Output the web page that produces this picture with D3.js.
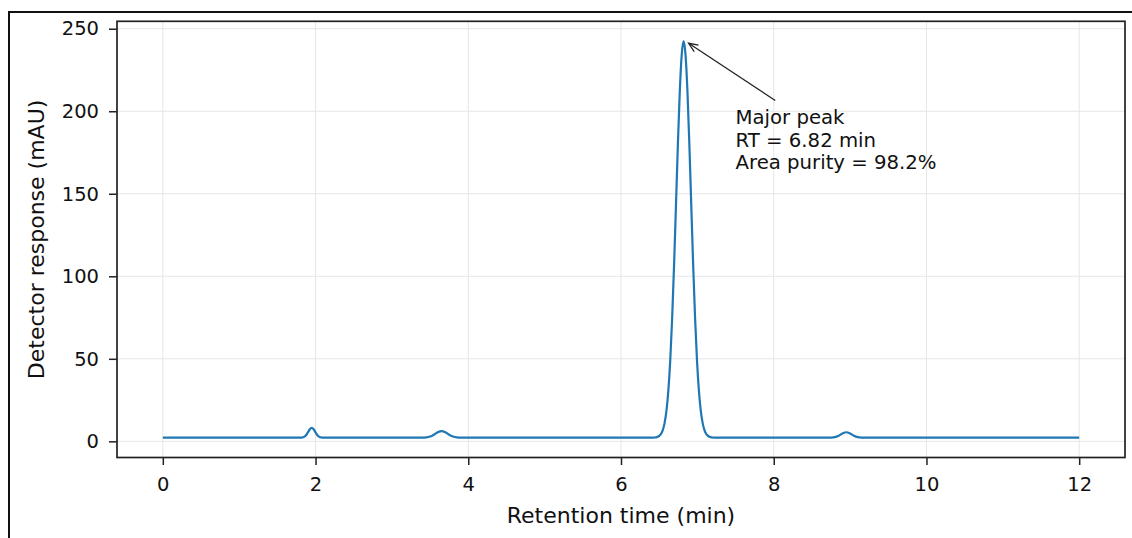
<!DOCTYPE html>
<html>
<head>
<meta charset="utf-8">
<script src="https://cdn.jsdelivr.net/npm/d3@7"></script>
<style>
    body { margin: 0; background: #fff; }
    text { font-family: "DejaVu Sans", sans-serif; fill: #111; }
</style>
</head>
<body>
<div id="chart"></div>
<script>
// chromatogram (min, mAU)
const retentionTime = [
    0, 1.80,
    1.825, 1.85, 1.875, 1.90, 1.925, 1.95, 1.975, 2.00, 2.025, 2.05, 2.075, 2.10,
    3.35, 3.40, 3.45, 3.50, 3.55, 3.60, 3.65, 3.70, 3.75, 3.80, 3.85, 3.90, 3.95,
    6.42, 6.445, 6.47, 6.495, 6.52, 6.545, 6.57, 6.595, 6.62, 6.645, 6.67, 6.695, 6.72, 6.745, 6.77, 6.795,
    6.82,
    6.845, 6.87, 6.895, 6.92, 6.945, 6.97, 6.995, 7.02, 7.045, 7.07, 7.095, 7.12, 7.145, 7.17, 7.195, 7.22,
    8.70, 8.75, 8.80, 8.85, 8.90, 8.95, 9.00, 9.05, 9.10, 9.15, 9.20,
    12.0
];
const response = [
    2.2, 2.2,
    2.33, 2.71, 3.70, 5.44, 7.34, 8.2, 7.34, 5.44, 3.70, 2.71, 2.33, 2.2,
    2.2, 2.23, 2.38, 2.89, 4.03, 5.49, 6.2, 5.49, 4.03, 2.89, 2.38, 2.23, 2.2,
    2.2, 2.33, 2.56, 3.07, 4.2, 6.5, 10.9, 18.4, 30.8, 49.2, 74.7, 106.8, 143.2, 180.2, 212.2, 234.2,
    242.5,
    234.2, 212.2, 180.2, 143.2, 106.8, 74.7, 49.2, 30.8, 18.4, 10.9, 6.5, 4.2, 3.07, 2.56, 2.33, 2.2,
    2.2, 2.26, 2.53, 3.39, 4.76, 5.5, 4.76, 3.39, 2.53, 2.26, 2.2,
    2.2
];

const xTicks = [0, 2, 4, 6, 8, 10, 12];
const yTicks = [0, 50, 100, 150, 200, 250];

const annotationLines = ["Major peak", "RT = 6.82 min", "Area purity = 98.2%"];
const peakPoint = [6.82, 242.5];
const textPoint = [7.5, 192];
const arrowTail = [8.02, 206.5];

const width = 1132;
const height = 538;
const margin = { top: 21.3, right: 7, bottom: 80.5, left: 117 };

const svg = d3.select("#chart")
    .append("svg")
    .attr("width", width)
    .attr("height", height);

// outer figure frame (cropped on the right and bottom)
svg.append("rect")
    .attr("x", 9)
    .attr("y", 12)
    .attr("width", width + 20)
    .attr("height", height + 20)
    .attr("fill", "none")
    .attr("stroke", "#111")
    .attr("stroke-width", 2);

const x = d3.scaleLinear()
    .domain([-0.6, 12.6])
    .range([margin.left, width - margin.right]);

const y = d3.scaleLinear()
    .domain([-9.8, 254.5])
    .range([height - margin.bottom, margin.top]);

// grid
svg.append("g")
    .selectAll("line")
    .data(xTicks)
    .join("line")
    .attr("x1", d => x(d)).attr("x2", d => x(d))
    .attr("y1", y.range()[0]).attr("y2", y.range()[1])
    .attr("stroke", "#e6e6e6")
    .attr("stroke-width", 1);

svg.append("g")
    .selectAll("line")
    .data(yTicks)
    .join("line")
    .attr("x1", x.range()[0]).attr("x2", x.range()[1])
    .attr("y1", d => y(d)).attr("y2", d => y(d))
    .attr("stroke", "#e6e6e6")
    .attr("stroke-width", 1);

// trace
var data = [];
for (var i = 0; i < retentionTime.length; i++) {
    data.push({ t: retentionTime[i], v: response[i] });
}

svg.append("path")
    .datum(data)
    .attr("fill", "none")
    .attr("stroke", "#1f77b4")
    .attr("stroke-width", 2.2)
    .attr("stroke-linejoin", "round")
    .attr("d", d3.line()
        .curve(d3.curveMonotoneX)
        .x(d => x(d.t))
        .y(d => y(d.v))
    );

// axes
const xAxis = svg.append("g")
    .attr("transform", "translate(0," + y.range()[0] + ")")
    .call(d3.axisBottom(x).tickValues(xTicks).tickFormat(d3.format("d")).tickSize(7.5).tickPadding(12));

const yAxis = svg.append("g")
    .attr("transform", "translate(" + x.range()[0] + ",0)")
    .call(d3.axisLeft(y).tickValues(yTicks).tickFormat(d3.format("d")).tickSize(8).tickPadding(10));

[xAxis, yAxis].forEach(g => {
    g.select(".domain").remove();
    g.selectAll(".tick line").attr("stroke", "#222").attr("stroke-width", 1.5);
    g.selectAll(".tick text")
        .attr("fill", "#111")
        .style("font-size", "19.5px")
        .style("font-family", "'DejaVu Sans', sans-serif");
});

// spines
svg.append("rect")
    .attr("x", x.range()[0])
    .attr("y", y.range()[1])
    .attr("width", x.range()[1] - x.range()[0])
    .attr("height", y.range()[0] - y.range()[1])
    .attr("fill", "none")
    .attr("stroke", "#222")
    .attr("stroke-width", 1.7);

// axis labels
svg.append("text")
    .attr("x", (x.range()[0] + x.range()[1]) / 2)
    .attr("y", 523)
    .attr("text-anchor", "middle")
    .style("font-size", "22px")
    .text("Retention time (min)");

svg.append("text")
    .attr("transform", "translate(44," + (y.range()[0] + y.range()[1]) / 2 + ") rotate(-90)")
    .attr("text-anchor", "middle")
    .style("font-size", "22px")
    .text("Detector response (mAU)");

// annotation
const ann = svg.append("text")
    .attr("x", x(textPoint[0]))
    .attr("y", y(textPoint[1]))
    .style("font-size", "19.7px");

ann.selectAll("tspan")
    .data(annotationLines)
    .join("tspan")
    .attr("x", x(textPoint[0]))
    .attr("dy", (d, i) => i == 0 ? 0 : 22.5)
    .text(d => d);

const tx = x(arrowTail[0]), ty = y(arrowTail[1]);
const px = x(peakPoint[0]), py = y(peakPoint[1]);
const len = Math.hypot(px - tx, py - ty);
const ux = (px - tx) / len, uy = (py - ty) / len;
const hx = px - ux * 6, hy = py - uy * 4;

svg.append("line")
    .attr("x1", tx).attr("y1", ty)
    .attr("x2", hx).attr("y2", hy)
    .attr("stroke", "#222")
    .attr("stroke-width", 1.3);

const headLen = 10, headAng = 0.4;
const ang = Math.atan2(ty - hy, tx - hx);
svg.append("path")
    .attr("d", "M" + (hx + headLen * Math.cos(ang - headAng)) + "," + (hy + headLen * Math.sin(ang - headAng)) +
        "L" + hx + "," + hy +
        "L" + (hx + headLen * Math.cos(ang + headAng)) + "," + (hy + headLen * Math.sin(ang + headAng)))
    .attr("fill", "none")
    .attr("stroke", "#222")
    .attr("stroke-width", 1.3);
</script>
</body>
</html>
